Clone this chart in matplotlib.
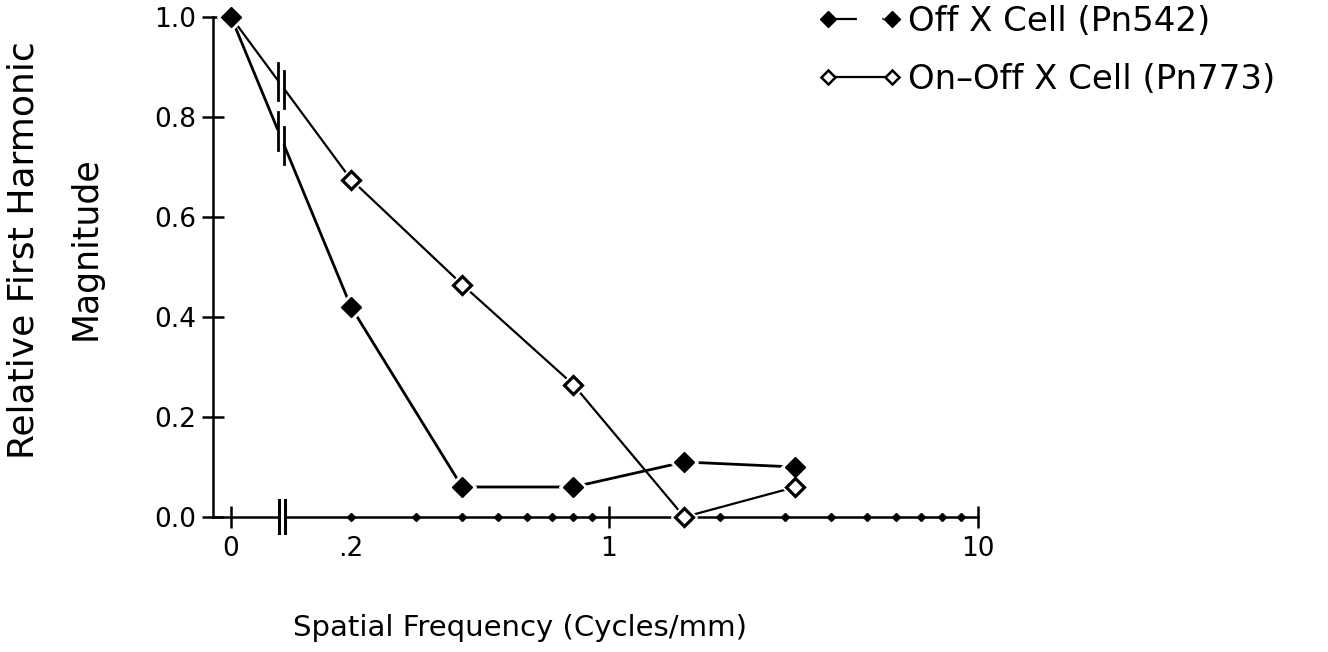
import numpy as np
import matplotlib
matplotlib.use("Agg")
import matplotlib.pyplot as plt
from matplotlib.lines import Line2D
import matplotlib.transforms as mtransforms

# datos (x = 0 se dibuja en X0 sobre el eje log)
X0 = 0.0946
freq = [X0, 0.2, 0.4, 0.8, 1.6, 3.2]
off_x = [1.0, 0.42, 0.06, 0.06, 0.11, 0.10]      # Off X Cell (Pn542)
onoff_x = [1.0, 0.675, 0.465, 0.265, 0.0, 0.06]   # On-Off X Cell (Pn773)
xticks = [X0, 0.2, 1, 10]
xticklabels = ["0", ".2", "1", "10"]
minor_x = [0.2, 0.3, 0.4, 0.5, 0.6, 0.7, 0.8, 0.9, 2, 3, 4, 5, 6, 7, 8, 9]
yticks = [0.0, 0.2, 0.4, 0.6, 0.8, 1.0]
BRK = (0.1266, 0.1314)  # corte del eje entre 0 y .2

plt.rcParams.update({"font.family": "DejaVu Sans"})
fig = plt.figure(figsize=(13.28, 6.52), dpi=100)
ax = fig.add_axes([213/1328, 1-517/652, 765/1328, 500/652])
ax.set_xscale("log")
ax.set_xlim(0.0845, 10)
ax.set_ylim(0, 1.0)
for s in ("top", "right"):
    ax.spines[s].set_visible(False)
for s in ("left", "bottom"):
    ax.spines[s].set_linewidth(1.8)

# series
ax.plot(freq, onoff_x, color="black", lw=1.6, zorder=3, clip_on=False)
ax.plot(freq, off_x, color="black", lw=2.0, zorder=3, clip_on=False)
# halo blanco: hueco entre linea y marcador
ax.plot(freq, off_x, ls="none", marker="D", ms=14, color="white", zorder=4, clip_on=False)
ax.plot(freq[1:], onoff_x[1:], ls="none", marker="D", ms=13, color="white", zorder=4, clip_on=False)
ax.plot(freq[1:], onoff_x[1:], ls="none", marker="D", ms=9, mfc="white", mec="black", mew=2.3,
        zorder=5, clip_on=False)
ax.plot(freq, off_x, ls="none", marker="D", ms=10.5, color="black", zorder=6, clip_on=False)

# marcas de corte sobre cada linea
lx = np.log10(freq)
for ys in (off_x, onoff_x):
    yb = np.interp(np.log10(BRK), lx, ys)
    ax.plot(BRK, yb, color="white", lw=4, zorder=3.5, solid_capstyle="butt")
    for xb, y in zip(BRK, yb):
        ax.plot([xb, xb], [y - 0.04, y + 0.035], color="black", lw=2, zorder=3.6)

# corte del eje x
BRK_AX = (0.1276, 0.1324)
tr = mtransforms.blended_transform_factory(ax.transData, ax.transAxes)
ax.plot(BRK_AX, [0, 0], transform=tr, color="white", lw=4, zorder=3.5, clip_on=False,
        solid_capstyle="butt")
for xb in BRK_AX:
    ax.plot([xb, xb], [-0.032, 0.034], transform=tr, color="black", lw=2.2, zorder=3.6,
            clip_on=False)

# ticks
ax.set_xticks(xticks)
ax.set_xticklabels(xticklabels)
ax.xaxis.set_minor_locator(matplotlib.ticker.NullLocator())
ax.tick_params(axis="x", which="major", direction="inout", length=16, width=1.8,
               labelsize=19, pad=6)
ax.xaxis.get_major_ticks()[1].tick1line.set_visible(False)
ax.plot(minor_x, np.zeros(len(minor_x)), ls="none", marker="D", ms=4.5, color="black",
        zorder=3, clip_on=False)
ax.set_yticks(yticks)
ax.set_yticklabels([f"{v:.1f}" for v in yticks])
ax.tick_params(axis="y", direction="inout", length=16, width=1.8, labelsize=19, pad=4)

# etiquetas
ax.set_xlabel("Spatial Frequency (Cycles/mm)", fontsize=21)
ax.xaxis.set_label_coords((520-213)/765, (517-628)/500)
ax.xaxis.label.set_va("center")
fig.text(24/1328, 1-250/652, "Relative First Harmonic", rotation=90, fontsize=26,
         ha="center", va="center")
fig.text(86/1328, 1-248/652, "Magnitude", rotation=90, fontsize=25, ha="center", va="center")

# leyenda
h1 = Line2D([], [], color="black", ls=(0, (13, 11.5, 0.6, 10)), lw=1.6, marker="D", ms=8.5,
            mfc="black")
h2 = Line2D([], [], color="black", ls="-", lw=1.6, marker="D", ms=7, mfc="white", mew=1.8)
fig.legend([h1, h2], ["Off X Cell (Pn542)", "On\u2013Off X Cell (Pn773)"], loc="upper left",
           bbox_to_anchor=(787/1328, 1.04), frameon=False, fontsize=24.5, handlelength=2.5,
           handletextpad=0.15, labelspacing=0.75, numpoints=2)

fig.savefig("out.png", dpi=100)
